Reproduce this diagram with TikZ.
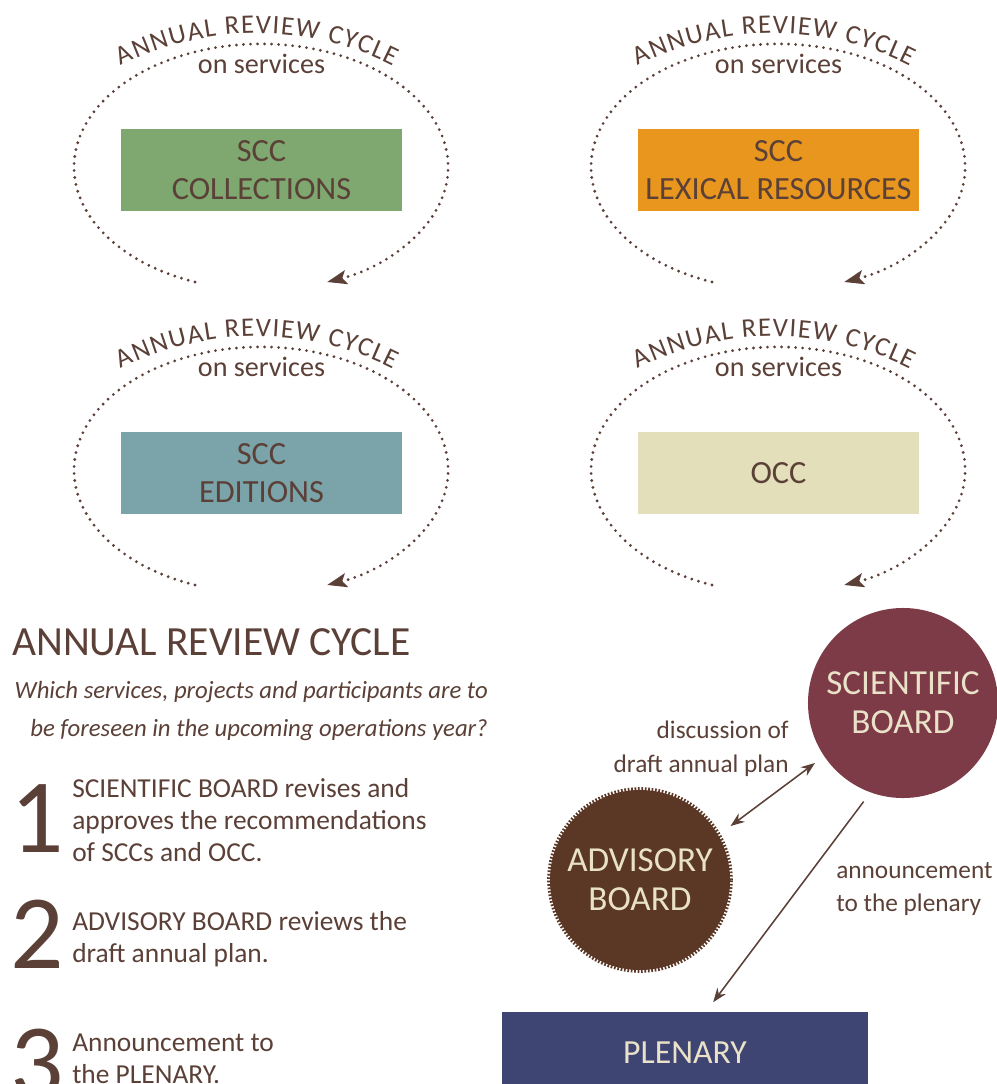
\documentclass[tikz,border=0pt]{standalone}
\usepackage{fontspec}
\setmainfont{Carlito}
\usetikzlibrary{arrows.meta,positioning,decorations.text}
\usepackage{xcolor}
\definecolor{Ink}{HTML}{5B4037}
\definecolor{CollGreen}{HTML}{7EA86F}
\definecolor{LexOrange}{HTML}{E8961E}
\definecolor{EdTeal}{HTML}{7BA3AA}
\definecolor{OccBeige}{HTML}{E3DFBA}
\definecolor{SciRed}{HTML}{7D3A47}
\definecolor{AdvBrown}{HTML}{5B3826}
\definecolor{PlenBlue}{HTML}{3F4573}
\definecolor{Cream}{HTML}{E9E2C8}

\begin{document}
\begin{tikzpicture}[
    x=0.025cm, y=0.025cm,
    sccbox/.style={minimum width=7.025cm, minimum height=2.05cm, inner sep=0pt,
                   align=center, text=Ink, font=\fontsize{23}{27}\selectfont},
    loop/.style={Ink, line width=2.2pt, line cap=round, dash pattern=on 0pt off 5pt,
                 -{Stealth[length=14pt,width=10pt,inset=3pt]}},
    looptitle/.style={decorate, decoration={text along path, text align=fit to path,
                 text color=Ink, text={|\fontsize{19}{19}\selectfont|ANNUAL REVIEW CYCLE}}},
    subtitle/.style={text=Ink, font=\fontsize{20}{20}\selectfont},
    board/.style={circle, minimum size=4.75cm, inner sep=0pt, align=center,
                  text=Cream, font=\fontsize{25}{28}\selectfont},
    link/.style={Ink, line width=1.1pt, >={Stealth[length=10pt,width=7.5pt]}},
    note/.style={text=Ink, inner sep=0pt, font=\fontsize{18}{24}\selectfont},
    bignum/.style={text=Ink, inner sep=0pt, anchor=base west, font=\fontsize{75}{75}\selectfont},
    steptext/.style={text=Ink, inner sep=0pt, anchor=west, align=left,
                     font=\fontsize{19.5}{22.7}\selectfont}
  ]
    \useasboundingbox (0,0) rectangle (996,-1084);

    % review cycles on services
    \node[sccbox, fill=CollGreen] (coll) at (261.5,-170) {SCC\\COLLECTIONS};
    \draw[loop] (195,-282) arc[start angle=249.3, end angle=-69.3, x radius=187, y radius=123];
    \path[looptitle] (121,-66) arc[start angle=117, end angle=63, radius=300];
    \node[subtitle, above=1.25cm of coll] (collsub) {on services};

    \node[sccbox, fill=LexOrange] (lex) at (778.5,-170) {SCC\\LEXICAL RESOURCES};
    \draw[loop] (712,-282) arc[start angle=249.3, end angle=-69.3, x radius=187, y radius=123];
    \path[looptitle] (638,-66) arc[start angle=117, end angle=63, radius=300];
    \node[subtitle, above=1.25cm of lex] (lexsub) {on services};

    \node[sccbox, fill=EdTeal] (ed) at (261.5,-473) {SCC\\EDITIONS};
    \draw[loop] (195,-585) arc[start angle=249.3, end angle=-69.3, x radius=187, y radius=123];
    \path[looptitle] (121,-369) arc[start angle=117, end angle=63, radius=300];
    \node[subtitle, above=1.25cm of ed] (edsub) {on services};

    \node[sccbox, fill=OccBeige] (occ) at (778.5,-473) {OCC};
    \draw[loop] (712,-585) arc[start angle=249.3, end angle=-69.3, x radius=187, y radius=123];
    \path[looptitle] (638,-369) arc[start angle=117, end angle=63, radius=300];
    \node[subtitle, above=1.25cm of occ] (occsub) {on services};

    % legend
    \node[text=Ink, inner sep=0pt, anchor=base west, font=\fontsize{29.5}{29.5}\selectfont]
      (head) at (12,-655) {ANNUAL REVIEW CYCLE};
    \node[text=Ink, inner sep=0pt, anchor=east, align=right, font=\itshape\fontsize{17.6}{27.6}\selectfont]
      (quest) at (488,-711) {Which services, projects and participants are to\\be foreseen in the upcoming operations year?};

    \node[bignum] (num1) at (10,-852) {1};
    \node[steptext] (txt1) at (72,-820) {SCIENTIFIC BOARD revises and\\approves the recommendations\\of SCCs and OCC.};
    \node[bignum] (num2) at (10,-968) {2};
    \node[steptext] (txt2) at (72,-939) {ADVISORY BOARD reviews the\\draft annual plan.};
    \node[bignum] (num3) at (10,-1097) {3};
    \node[steptext] (txt3) at (72,-1059) {Announcement to\\the PLENARY.};

    % boards
    \node[board, fill=SciRed] (sci) at (903,-703) {SCIENTIFIC\\BOARD};
    \node[board, fill=AdvBrown, minimum size=4.5cm, draw=AdvBrown, line width=4pt,
          dash pattern=on 1.2pt off 1.2pt] (adv) at (640,-880) {ADVISORY\\BOARD};
    \node[fill=PlenBlue, minimum width=9.15cm, minimum height=2.05cm, text=Cream,
          font=\fontsize{24}{28}\selectfont] (plen) at (685,-1053) {PLENARY};

    \draw[link, <->, shorten <=9pt, shorten >=8pt] (adv.30) -- (sci.214);
    \draw[link, ->, shorten <=8pt, shorten >=8.5pt] (sci.250) -- ([xshift=0.525cm]plen.north);
    \node[note, anchor=east, align=right] (disc) at (789,-749) {discussion of\\draft annual plan};
    \node[note, anchor=west, align=left] (anno) at (836,-889) {announcement\\to the plenary};
  \end{tikzpicture}
\end{document}
